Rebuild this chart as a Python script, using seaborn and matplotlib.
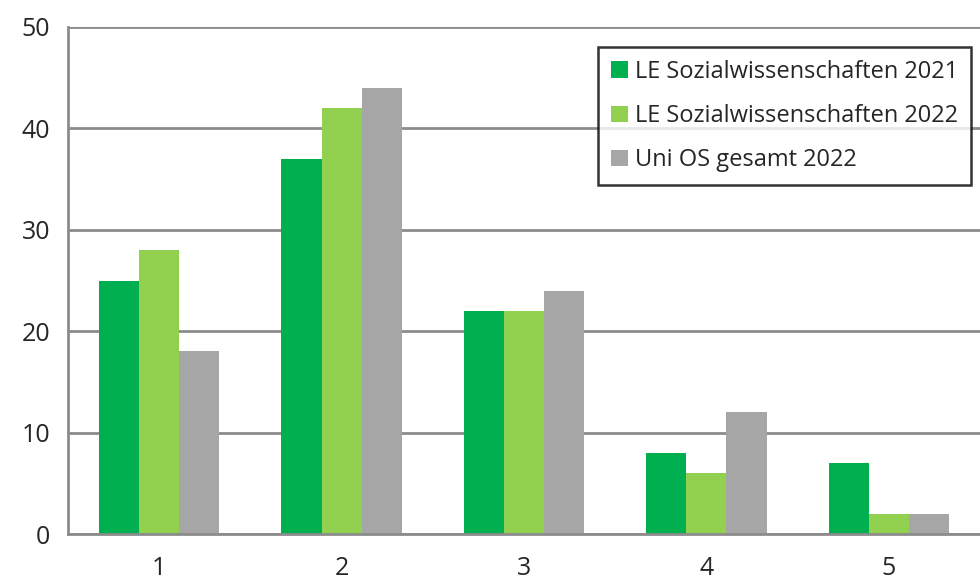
import pandas as pd
import matplotlib
matplotlib.use('Agg')
import matplotlib.pyplot as plt
import seaborn as sns

# categories on the x axis
categories = ['1', '2', '3', '4', '5']
series_names = ['LE Sozialwissenschaften 2021', 'LE Sozialwissenschaften 2022', 'Uni OS gesamt 2022']

# values
le_2021 = [25, 37, 22, 8, 7]
le_2022 = [28, 42, 22, 6, 2]
uni_2022 = [18, 44, 24, 12, 2]

mycolors = ['#00B050', '#92D050', '#A6A6A6']

# long format for seaborn
rows = []
for name, vals in zip(series_names, [le_2021, le_2022, uni_2022]):
    for c, v in zip(categories, vals):
        rows.append({'cat': c, 'value': v, 'series': name})
df = pd.DataFrame(rows)

sns.set_style('white')
plt.rcParams['font.family'] = ['Open Sans', 'DejaVu Sans']

fig = plt.figure(figsize=(9.8, 5.82), dpi=100)
ax = fig.add_axes([68 / 980, 1 - 534 / 582, 1 - 68 / 980, (534 - 27) / 582])

sns.barplot(data=df, x='cat', y='value', hue='series', order=categories,
            hue_order=series_names, palette=mycolors, width=0.66,
            saturation=1, linewidth=0, ax=ax)

gridcol = '#8C8C8C'
ax.set_ylim(0, 50)
ax.set_xlim(-0.5, 4.5)
ax.set_yticks([0, 10, 20, 30, 40, 50])
ax.yaxis.grid(True, color=gridcol, linewidth=2)
ax.set_axisbelow(True)

# tick marks between the categories, labels in the middle
ax.set_xticks([i + 0.5 for i in range(-1, 5)], minor=True)
ax.tick_params(axis='x', which='minor', length=8, width=2, color=gridcol, direction='out')
ax.tick_params(axis='x', which='major', length=0, pad=16, labelsize=18)
ax.tick_params(axis='y', length=8, width=2, color=gridcol, direction='out', pad=5, labelsize=18)

for s in ['top', 'right']:
    ax.spines[s].set_visible(False)
for s in ['left', 'bottom']:
    ax.spines[s].set_color(gridcol)
    ax.spines[s].set_linewidth(2)

ax.set_xlabel('')
ax.set_ylabel('')

leg = ax.legend(loc='upper left', bbox_to_anchor=(598 / 980, 1 - 47 / 582),
                bbox_transform=fig.transFigure, fontsize=17, frameon=True,
                fancybox=False, edgecolor='black', labelspacing=0.85,
                handlelength=0.7, handleheight=0.7, handletextpad=0.3,
                borderpad=0.55, borderaxespad=0)
leg.get_frame().set_linewidth(1.8)

plt.savefig('out.png', dpi=100)
